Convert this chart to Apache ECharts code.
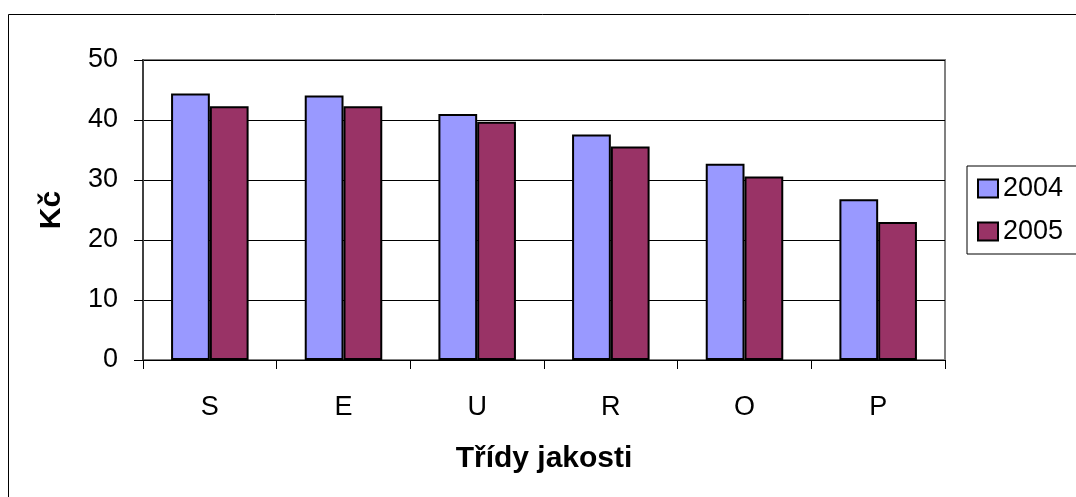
<!DOCTYPE html>
<html>
<head>
<meta charset="utf-8">
<script src="https://cdn.jsdelivr.net/npm/echarts@6/dist/echarts.min.js"></script>
<style>
  html, body { margin: 0; padding: 0; background: #fff; }
  #chart { width: 1076px; height: 497px; }
</style>
</head>
<body>
<div id="chart"></div>
<script>
// Quality classes and average prices (Kč) per year
const categories = ['S', 'E', 'U', 'R', 'O', 'P'];
const years = ['2004', '2005'];
const values2004 = [44.4, 44.1, 41.0, 37.6, 32.7, 26.8];
const values2005 = [42.3, 42.3, 39.7, 35.6, 30.6, 23.0];
const yTicks = { min: 0, max: 50, interval: 10 };

const FONT = '"Liberation Sans", Arial, sans-serif';
const FS = 27;      // tick labels and legend
const FS_NAME = 30; // bold axis titles
const chart = echarts.init(document.getElementById('chart'), null, { renderer: 'canvas' });

chart.setOption({
  backgroundColor: '#ffffff',
  animation: false,
  textStyle: { fontFamily: FONT, color: '#000' },
  graphic: [{
    type: 'rect',
    z: -1,
    shape: { x: 8.5, y: 14.5, width: 1200, height: 600 },
    style: { fill: 'none', stroke: '#000', lineWidth: 1 }
  }],
  grid: {
    left: 143, top: 60, right: 131, bottom: 137,
    show: true, backgroundColor: '#fff', borderColor: '#808080', borderWidth: 2
  },
  legend: {
    orient: 'vertical',
    left: 967, top: 166,
    data: years,
    icon: 'rect',
    itemWidth: 20, itemHeight: 18, itemGap: 16,
    padding: [9, 20, 9, 10],
    borderColor: '#000', borderWidth: 1,
    textStyle: { fontSize: FS, color: '#000', fontFamily: FONT }
  },
  xAxis: {
    type: 'category',
    data: categories,
    axisLine: { show: true, lineStyle: { color: '#000', width: 1 } },
    axisTick: { show: true, length: 9, lineStyle: { color: '#000' } },
    axisLabel: { fontSize: FS, color: '#000', margin: 34, fontFamily: FONT },
    name: 'Třídy jakosti',
    nameLocation: 'middle',
    nameGap: 84,
    nameTextStyle: { fontSize: FS_NAME, fontWeight: 'bold', color: '#000', fontFamily: FONT }
  },
  yAxis: {
    type: 'value',
    min: yTicks.min, max: yTicks.max, interval: yTicks.interval,
    axisLine: { show: true, lineStyle: { color: '#404040', width: 2 } },
    axisTick: { show: true, length: 9, lineStyle: { color: '#000' } },
    axisLabel: { fontSize: FS, color: '#000', margin: 25, fontFamily: FONT },
    splitLine: { show: true, lineStyle: { color: '#000', width: 1 } },
    name: 'Kč',
    nameLocation: 'middle',
    nameGap: 76,
    nameTextStyle: { fontSize: FS_NAME, fontWeight: 'bold', color: '#000', fontFamily: FONT }
  },
  series: [
    {
      name: years[0], type: 'bar', data: values2004,
      barGap: '0%', barCategoryGap: '42%',
      itemStyle: { color: '#9999FF', borderColor: '#000', borderWidth: 2 }
    },
    {
      name: years[1], type: 'bar', data: values2005,
      barGap: '0%', barCategoryGap: '42%',
      itemStyle: { color: '#993366', borderColor: '#000', borderWidth: 2 }
    }
  ]
});
</script>
</body>
</html>
